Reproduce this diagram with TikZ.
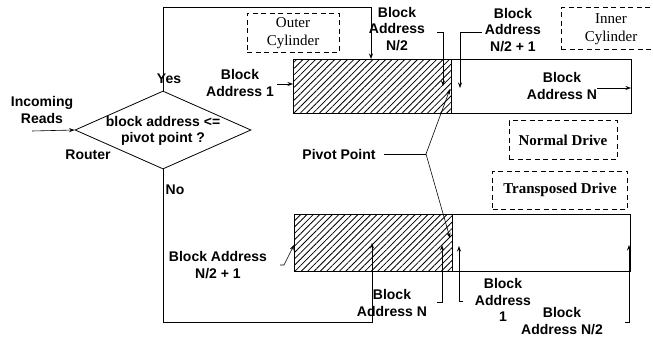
\documentclass[tikz,border=0pt]{standalone}
\usepackage{fontspec}
\setmainfont{Liberation Sans}
\newfontfamily\boxfont{Liberation Serif}
\usetikzlibrary{shapes.geometric,patterns.meta,arrows.meta}

\begin{document}
\begin{tikzpicture}[x=1pt, y=-1pt,
	lbl/.style={align=center, inner sep=0pt, font=\bfseries\fontsize{14}{16.5}\selectfont},
	tag/.style={draw, line width=1pt, dash pattern=on 5pt off 3.5pt, inner sep=0pt, align=center, font=\boxfont\fontsize{15}{18}\selectfont},
	drive/.style={draw, line width=0.8pt, anchor=north west, inner sep=0pt},
	hatch/.style={drive, pattern={Lines[angle=45, distance=4.5pt, line width=0.8pt]}},
	arr/.style={-{Stealth[length=5.5pt, width=4pt]}, line width=0.6pt}]
	\useasboundingbox (0,0) rectangle (653,337);
	% router
	\node[draw, diamond, line width=0.8pt, minimum width=176pt, minimum height=78pt, inner sep=0pt] (router) at (163,130) {};
	\node[lbl] (cond) at (163,131) {block address <=\\pivot point ?};
	\node[lbl] (inc) at (42,110) {Incoming\\Reads};
	\node[lbl] (rtr) at (88,155) {Router};
	\node[lbl] (yes) at (169,79) {Yes};
	\node[lbl] (no) at (175,190) {No};
	\coordinate (incS) at (32,131);
	\draw[arr] (incS) -- (router.west);
	% drives
	\node[drive, minimum width=338pt, minimum height=54pt] (top) at (293,59) {};
	\node[hatch, minimum width=158pt, minimum height=54pt] (topH) at (293,59) {};
	\node[drive, minimum width=336pt, minimum height=57pt] (bot) at (294,214) {};
	\node[hatch, minimum width=158pt, minimum height=57pt] (botH) at (294,214) {};
	% tags
	\node[tag, minimum width=92pt, minimum height=39pt] (outer) at (293,33) {Outer\\Cylinder};
	\node[tag, minimum width=100pt, minimum height=42pt] (inner) at (611,29) {Inner\\Cylinder};
	\node[tag, font=\boxfont\bfseries\fontsize{15}{18}\selectfont, minimum width=108pt, minimum height=39pt] (normal) at (563,140) {Normal Drive};
	\node[tag, font=\boxfont\bfseries\fontsize{15}{18}\selectfont, minimum width=135pt, minimum height=38pt] (transp) at (560,190) {Transposed Drive};
	% yes / no paths
	\coordinate (yesIn) at (371,59);
	\coordinate (noIn) at (372,243);
	\draw[arr] (router.north) |- (163,7) -| (yesIn);
	\draw[arr] (router.south) |- (372,322) -- (noIn);
	% top labels
	\node[lbl] (t1) at (240,83) {Block\\Address 1};
	\node[lbl] (tN2) at (397,29) {Block\\Address\\N/2};
	\node[lbl] (tN21) at (513,30) {Block\\Address\\N/2 + 1};
	\node[lbl] (tN) at (562,86) {Block\\Address N};
	\coordinate (t1In) at (293,84);
	\coordinate (tN2In) at (443,86);
	\coordinate (tN21In) at (460,88);
	\coordinate (tNIn) at (631,88);
	\draw[arr] (t1.east |- t1In) ++(3,0) -- (t1In);
	\draw[arr] (437,32) -| (tN2In);
	\draw[arr] (tN21.west |- 0,32) ++(-3,0) -| (tN21In);
	\draw[arr] (597,88) -- (tNIn);
	% bottom labels
	\node[lbl] (b1) at (218,265) {Block Address\\N/2 + 1};
	\node[lbl] (bN) at (392,303) {Block\\Address N};
	\node[lbl] (bA1) at (503,300) {Block\\Address\\1};
	\node[lbl] (bN2) at (562,321) {Block\\Address N/2};
	\coordinate (b1In) at (294,245);
	\coordinate (bNIn) at (442,245);
	\coordinate (bA1In) at (459,246);
	\coordinate (bN2In) at (629,245);
	\draw[arr] (280,265) -- (284,265) -- (b1In);
	\draw[arr] (437,302) -| (bNIn);
	\draw[arr] (463,301) -| (bA1In);
	\draw[arr] (625,322) -| (bN2In);
	% pivot point
	\node[lbl] (pivot) at (339,154) {Pivot Point};
	\coordinate (pv) at (426,154);
	\coordinate (pvTop) at (450,89);
	\coordinate (pvBot) at (450,238);
	\draw[line width=0.6pt] (pivot.east) ++(8,0) -- (pv);
	\draw[arr] (pv) -- (pvTop);
	\draw[arr] (pv) -- (pvBot);
\end{tikzpicture}
\end{document}
